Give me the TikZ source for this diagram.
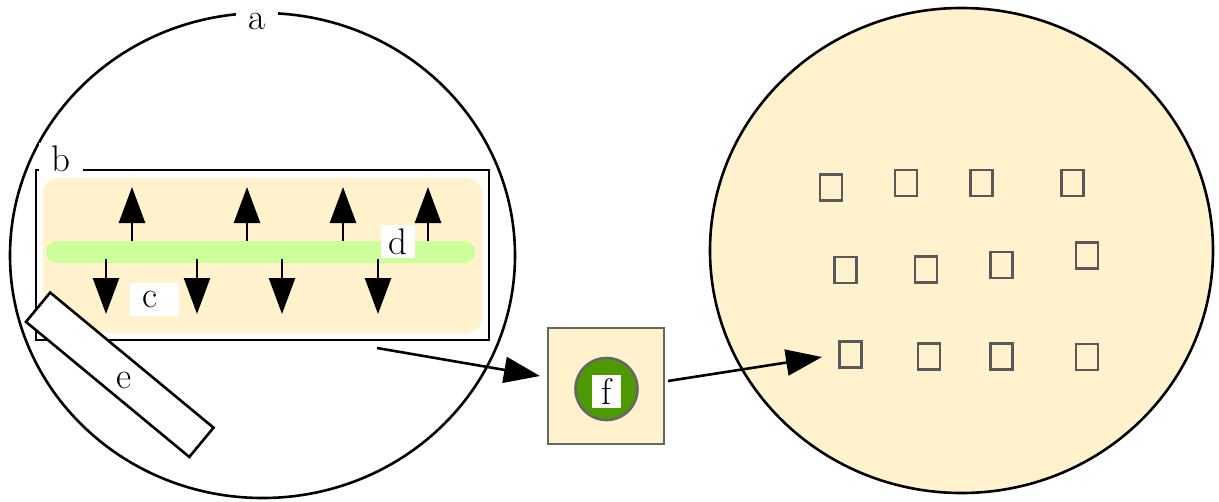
\documentclass[tikz,border=0pt]{standalone}
\usetikzlibrary{arrows.meta,shapes.geometric}
\definecolor{beige}{HTML}{FFF2CC}
\definecolor{lightgreen}{HTML}{CCFF99}
\definecolor{darkgreen}{HTML}{4D9900}
\definecolor{boxgray}{HTML}{666666}
\definecolor{sqgray}{HTML}{595959}
\begin{document}
\begin{tikzpicture}[x=1pt,y=-1pt,line width=2.6pt,
  font=\fontsize{37}{42}\selectfont,
  lab/.style={fill=white,inner sep=0pt,text=black},
  tip/.style={-{Triangle[length=36pt,width=26pt]}},
  sq/.style={draw=sqgray,rectangle,minimum width=22pt,minimum height=26pt,inner sep=0pt,line width=2.6pt},
  shape0/.style={inner sep=0pt,outer sep=0pt}]
\useasboundingbox (0,0) rectangle (1219,501);
% left big circle
\node[shape0,draw,ellipse,minimum width=505pt,minimum height=485pt] (a) at (262.5,255.5) {};
\node[lab,minimum width=42pt,minimum height=33pt] (la) at (257,21) {a};
% rectangle b
\node[shape0,draw,rectangle,minimum width=453pt,minimum height=170pt] (b) at (262.5,255) {};
\node[lab,minimum width=44pt,minimum height=33pt] (lb) at (61,159) {b};
% beige region
\node[shape0,fill=beige,rectangle,rounded corners=15pt,minimum width=439pt,minimum height=155pt] (c) at (262.5,255.5) {};
% green bar
\node[shape0,fill=lightgreen,rectangle,rounded corners=10.9pt,minimum width=429pt,minimum height=22pt] (d) at (260.5,252) {};
% up arrows
\coordinate (u1s) at (132,241); \coordinate (u1e) at (132,187);
\coordinate (u2s) at (247,241); \coordinate (u2e) at (247,187);
\coordinate (u3s) at (343,241); \coordinate (u3e) at (343,187);
\coordinate (u4s) at (428,241); \coordinate (u4e) at (428,187);
\draw[tip] (u1s) -- (u1e);
\draw[tip] (u2s) -- (u2e);
\draw[tip] (u3s) -- (u3e);
\draw[tip] (u4s) -- (u4e);
% down arrows
\coordinate (d1s) at (106,259); \coordinate (d1e) at (106,314);
\coordinate (d2s) at (197,259); \coordinate (d2e) at (197,314);
\coordinate (d3s) at (282,259); \coordinate (d3e) at (282,314);
\coordinate (d4s) at (378,259); \coordinate (d4e) at (378,314);
\draw[tip] (d1s) -- (d1e);
\draw[tip] (d2s) -- (d2e);
\draw[tip] (d3s) -- (d3e);
\draw[tip] (d4s) -- (d4e);
% labels c, d
\node[lab,minimum width=49pt,minimum height=33pt] (lc) at (154.5,299.5) {\makebox[0pt]{\hspace*{-8pt}c}};
\node[lab,minimum width=34pt,minimum height=33pt] (ld) at (398,241.5) {d};
% rotated rectangle e
\node[shape0,draw,fill=white,rectangle,minimum width=212pt,minimum height=38pt,rotate=-39.6] (e) at (119.75,374.75) {};
\node[inner sep=0pt] (le) at (124.5,380) {e};
% box f
\node[shape0,draw=boxgray,fill=beige,rectangle,minimum width=116pt,minimum height=116pt] (fbox) at (606,386) {};
\node[shape0,draw=boxgray,fill=darkgreen,circle,minimum size=62pt] (fcirc) at (606.5,389) {};
\node[lab,minimum width=29pt,minimum height=33pt] (lf) at (606.5,391.5) {f};
% right big circle
\node[shape0,draw,fill=beige,ellipse,minimum width=503pt,minimum height=485pt] (g) at (961.5,250.5) {};
% squares
\node[sq] (s11) at (831,187.5) {};
\node[sq] (s12) at (906,183) {};
\node[sq] (s13) at (981.7,183) {};
\node[sq] (s14) at (1072.5,183) {};
\node[sq] (s21) at (845.5,270) {};
\node[sq] (s22) at (926,269.5) {};
\node[sq] (s23) at (1001.5,264.8) {};
\node[sq] (s24) at (1087,255.3) {};
\node[sq] (s31) at (850.5,354.7) {};
\node[sq] (s32) at (928.8,356.7) {};
\node[sq] (s33) at (1001.5,356.7) {};
\node[sq] (s34) at (1087,357) {};
% connectors
\coordinate (p1s) at (377,348); \coordinate (p1e) at (540,376);
\coordinate (p2s) at (668,381); \coordinate (p2e) at (822,357);
\draw[tip] (p1s) -- (p1e);
\draw[tip] (p2s) -- (p2e);
\end{tikzpicture}
\end{document}
